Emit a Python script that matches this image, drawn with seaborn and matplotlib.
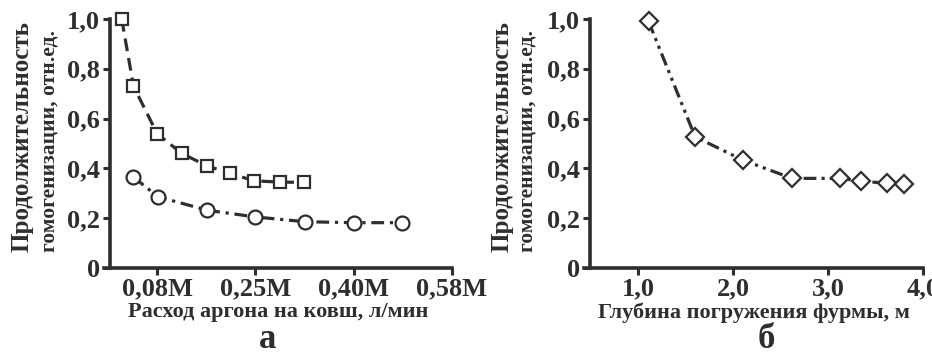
import matplotlib
matplotlib.use("Agg")
import matplotlib.pyplot as plt
import seaborn as sns

# ---- data ----
flow_tick_labels = ["0,08M", "0,25M", "0,40M", "0,58M"]
flow_tick_pos = [1, 2, 3, 4]
sq_x = [0.64, 0.76, 1.0, 1.25, 1.51, 1.74, 1.99, 2.25, 2.49]
sq_y = [1.0, 0.73, 0.54, 0.46, 0.41, 0.38, 0.35, 0.345, 0.344]
ci_x = [0.76, 1.01, 1.51, 2.0, 2.5, 3.0, 3.49]
ci_y = [0.365, 0.286, 0.232, 0.205, 0.186, 0.182, 0.182]

depth_x = [1.11, 1.60, 2.10, 2.62, 3.13, 3.35, 3.62, 3.80]
depth_y = [0.99, 0.527, 0.434, 0.36, 0.36, 0.349, 0.34, 0.336]
depth_ticks = [1.0, 2.0, 3.0, 4.0]
depth_tick_labels = ["1,0", "2,0", "3,0", "4,0"]

y_ticks = [0, 0.2, 0.4, 0.6, 0.8, 1.0]
y_tick_labels = ["0", "0,2", "0,4", "0,6", "0,8", "1,0"]

ylabel_line1 = "Продолжительность"
ylabel_line2 = "гомогенизации, отн.ед."
xlabel_a = "Расход аргона на ковш, л/мин"
xlabel_b = "Глубина погружения фурмы, м"
panel_a = "а"
panel_b = "б"

# ---- style ----
sns.set_style("ticks")
plt.rcParams["font.family"] = ["Liberation Serif", "DejaVu Serif"]
plt.rcParams["font.weight"] = "bold"
INK = "#2e2e2e"
W, H = 932, 356

fig = plt.figure(figsize=(9.32, 3.56), dpi=100)
ax1 = fig.add_axes([104 / W, 88 / H, 348 / W, 249 / H])
ax2 = fig.add_axes([584 / W, 88 / H, 339 / W, 249 / H])

lw = 2.3
common = dict(color=INK, lw=lw, markerfacecolor="white", markeredgecolor=INK,
              markeredgewidth=1.6, sort=False, estimator=None, errorbar=None,
              clip_on=False)
sns.lineplot(x=sq_x, y=sq_y, ax=ax1, marker="s", markersize=9,
             linestyle=(0, (4, 2.2)), **common)
sns.lineplot(x=ci_x, y=ci_y, ax=ax1, marker="o", markersize=10,
             linestyle=(0, (4, 1.8, 1, 1.8)), **common)
sns.lineplot(x=depth_x, y=depth_y, ax=ax2, marker="D", markersize=9,
             linestyle=(0, (4, 1.6, 1, 1.6, 1, 1.6)), **common)

ax1.set_xlim(0.46, 4.0)
ax2.set_xlim(0.43, 4.0)
for ax in (ax1, ax2):
    ax.set_ylim(0, 1.0)
    ax.set_yticks(y_ticks)
    ax.set_yticklabels(y_tick_labels)
    for s in ("top", "right"):
        ax.spines[s].set_visible(False)
    for s in ("left", "bottom"):
        ax.spines[s].set_linewidth(2.6)
        ax.spines[s].set_color(INK)
    ax.spines["left"].set_position(("axes", 0.017))
    ax.tick_params(axis="both", direction="out", length=5, width=2.2, color=INK,
                   labelsize=19, labelcolor=INK, pad=2)
    ax.set_facecolor("white")

ax1.set_xticks(flow_tick_pos)
ax1.set_xticklabels(flow_tick_labels)
ax2.set_xticks(depth_ticks)
ax2.set_xticklabels(depth_tick_labels)
for ax in (ax1, ax2):
    for lab in ax.get_xticklabels() + ax.get_yticklabels():
        lab.set_fontweight("bold")

ax1.set_xlabel(xlabel_a, fontsize=16, fontweight="bold", color=INK, labelpad=1)
ax2.set_xlabel(xlabel_b, fontsize=16, fontweight="bold", color=INK, labelpad=1)

# two-line y labels (first line larger, as in the reference)
for x1, x2 in ((22.5, 49.5), (501.5, 527.5)):
    fig.text(x1 / W, 1 - 137 / H, ylabel_line1, rotation=90, fontsize=18,
             fontweight="bold", color=INK, ha="center", va="center")
    fig.text(x2 / W, 1 - 141 / H, ylabel_line2, rotation=90, fontsize=15.5,
             fontweight="bold", color=INK, ha="center", va="center")

fig.text(268 / W, 1 - 339 / H, panel_a, fontsize=25, fontweight="bold", color=INK,
         ha="center", va="center")
fig.text(766 / W, 1 - 339 / H, panel_b, fontsize=25, fontweight="bold", color=INK,
         ha="center", va="center")

fig.savefig("out.png", dpi=100, facecolor="white")
